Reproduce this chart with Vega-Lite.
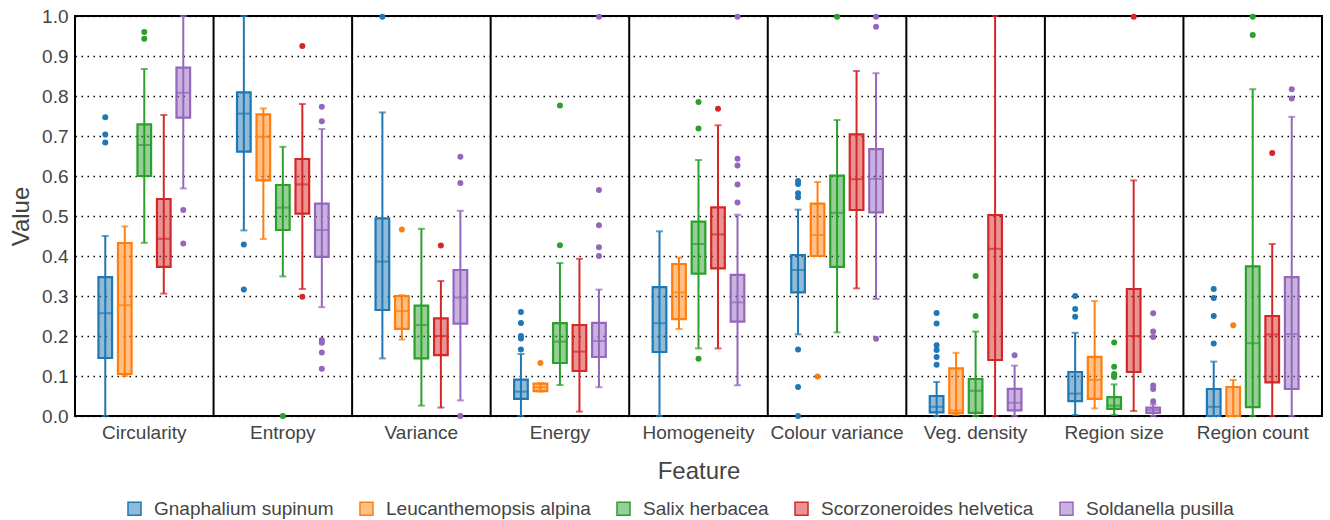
{
  "$schema": "https://vega.github.io/schema/vega-lite/v6.json",
  "width": 1247,
  "height": 400,
  "autosize": "none",
  "padding": {"left": 75, "top": 16, "right": 8, "bottom": 104},
  "background": "white",
  "config": {
    "font": "Liberation Sans",
    "view": {"stroke": "black", "strokeWidth": 2},
    "axis": {"labelColor": "#444", "titleColor": "#444", "ticks": false, "domain": false, "labelFont": "Liberation Sans", "titleFont": "Liberation Sans", "titleFontWeight": "normal"},
    "axisX": {"labelFontSize": 19, "titleFontSize": 24, "labelPadding": 7, "titlePadding": 17, "grid": false, "labelAngle": 0},
    "axisY": {"labelFontSize": 19, "titleFontSize": 24, "labelPadding": 7, "titlePadding": 8, "grid": true, "gridColor": "#000", "gridDash": [1.5, 4.5], "gridWidth": 1.4, "gridOpacity": 1},
    "legend": {"labelFontSize": 19, "labelColor": "#444", "labelFont": "Liberation Sans", "labelLimit": 400}
  },
  "resolve": {"scale": {"x": "independent"}, "axis": {"x": "independent"}},
  "datasets": {
    "features": [
      {"feature": "Circularity"}, {"feature": "Entropy"}, {"feature": "Variance"}, {"feature": "Energy"}, {"feature": "Homogeneity"}, {"feature": "Colour variance"}, {"feature": "Veg. density"}, {"feature": "Region size"}, {"feature": "Region count"}
    ],
    "boxes": [
      {"feature": "Circularity", "species": "Gnaphalium supinum", "lower": 0.0, "q1": 0.145, "median": 0.257, "q3": 0.347, "upper": 0.45},
      {"feature": "Circularity", "species": "Leucanthemopsis alpina", "lower": 0.1, "q1": 0.105, "median": 0.277, "q3": 0.4325, "upper": 0.474},
      {"feature": "Circularity", "species": "Salix herbacea", "lower": 0.433, "q1": 0.6, "median": 0.6775, "q3": 0.729, "upper": 0.8675},
      {"feature": "Circularity", "species": "Scorzoneroides helvetica", "lower": 0.306, "q1": 0.373, "median": 0.443, "q3": 0.5425, "upper": 0.7525},
      {"feature": "Circularity", "species": "Soldanella pusilla", "lower": 0.569, "q1": 0.746, "median": 0.808, "q3": 0.871, "upper": 1.0},
      {"feature": "Entropy", "species": "Gnaphalium supinum", "lower": 0.464, "q1": 0.661, "median": 0.756, "q3": 0.809, "upper": 1.0},
      {"feature": "Entropy", "species": "Leucanthemopsis alpina", "lower": 0.4425, "q1": 0.589, "median": 0.698, "q3": 0.754, "upper": 0.769},
      {"feature": "Entropy", "species": "Salix herbacea", "lower": 0.349, "q1": 0.465, "median": 0.521, "q3": 0.5775, "upper": 0.673},
      {"feature": "Entropy", "species": "Scorzoneroides helvetica", "lower": 0.3175, "q1": 0.506, "median": 0.579, "q3": 0.6425, "upper": 0.78},
      {"feature": "Entropy", "species": "Soldanella pusilla", "lower": 0.272, "q1": 0.398, "median": 0.465, "q3": 0.531, "upper": 0.7175},
      {"feature": "Variance", "species": "Gnaphalium supinum", "lower": 0.144, "q1": 0.265, "median": 0.386, "q3": 0.494, "upper": 0.759},
      {"feature": "Variance", "species": "Leucanthemopsis alpina", "lower": 0.191, "q1": 0.218, "median": 0.2625, "q3": 0.3, "upper": 0.302},
      {"feature": "Variance", "species": "Salix herbacea", "lower": 0.026, "q1": 0.144, "median": 0.2275, "q3": 0.276, "upper": 0.468},
      {"feature": "Variance", "species": "Scorzoneroides helvetica", "lower": 0.021, "q1": 0.152, "median": 0.2, "q3": 0.244, "upper": 0.3375},
      {"feature": "Variance", "species": "Soldanella pusilla", "lower": 0.039, "q1": 0.231, "median": 0.296, "q3": 0.365, "upper": 0.513},
      {"feature": "Energy", "species": "Gnaphalium supinum", "lower": 0.0, "q1": 0.043, "median": 0.061, "q3": 0.091, "upper": 0.155},
      {"feature": "Energy", "species": "Leucanthemopsis alpina", "lower": 0.061, "q1": 0.062, "median": 0.072, "q3": 0.081, "upper": 0.082},
      {"feature": "Energy", "species": "Salix herbacea", "lower": 0.0775, "q1": 0.1325, "median": 0.186, "q3": 0.232, "upper": 0.3825},
      {"feature": "Energy", "species": "Scorzoneroides helvetica", "lower": 0.011, "q1": 0.1125, "median": 0.161, "q3": 0.2275, "upper": 0.393},
      {"feature": "Energy", "species": "Soldanella pusilla", "lower": 0.072, "q1": 0.1475, "median": 0.1875, "q3": 0.233, "upper": 0.316},
      {"feature": "Homogeneity", "species": "Gnaphalium supinum", "lower": 0.0, "q1": 0.16, "median": 0.232, "q3": 0.322, "upper": 0.4617},
      {"feature": "Homogeneity", "species": "Leucanthemopsis alpina", "lower": 0.2175, "q1": 0.242, "median": 0.309, "q3": 0.38, "upper": 0.396},
      {"feature": "Homogeneity", "species": "Salix herbacea", "lower": 0.169, "q1": 0.356, "median": 0.43, "q3": 0.486, "upper": 0.64},
      {"feature": "Homogeneity", "species": "Scorzoneroides helvetica", "lower": 0.169, "q1": 0.369, "median": 0.454, "q3": 0.5217, "upper": 0.7267},
      {"feature": "Homogeneity", "species": "Soldanella pusilla", "lower": 0.0767, "q1": 0.236, "median": 0.284, "q3": 0.353, "upper": 0.503},
      {"feature": "Colour variance", "species": "Gnaphalium supinum", "lower": 0.204, "q1": 0.309, "median": 0.365, "q3": 0.4025, "upper": 0.516},
      {"feature": "Colour variance", "species": "Leucanthemopsis alpina", "lower": 0.4, "q1": 0.4, "median": 0.4525, "q3": 0.531, "upper": 0.585},
      {"feature": "Colour variance", "species": "Salix herbacea", "lower": 0.209, "q1": 0.373, "median": 0.508, "q3": 0.601, "upper": 0.74},
      {"feature": "Colour variance", "species": "Scorzoneroides helvetica", "lower": 0.319, "q1": 0.515, "median": 0.592, "q3": 0.704, "upper": 0.8625},
      {"feature": "Colour variance", "species": "Soldanella pusilla", "lower": 0.2925, "q1": 0.509, "median": 0.5925, "q3": 0.667, "upper": 0.857},
      {"feature": "Veg. density", "species": "Gnaphalium supinum", "lower": 0.0, "q1": 0.009, "median": 0.023, "q3": 0.05, "upper": 0.085},
      {"feature": "Veg. density", "species": "Leucanthemopsis alpina", "lower": 0.0025, "q1": 0.007, "median": 0.014, "q3": 0.119, "upper": 0.158},
      {"feature": "Veg. density", "species": "Salix herbacea", "lower": 0.0, "q1": 0.008, "median": 0.063, "q3": 0.0925, "upper": 0.211},
      {"feature": "Veg. density", "species": "Scorzoneroides helvetica", "lower": 0.0, "q1": 0.14, "median": 0.418, "q3": 0.5025, "upper": 1.0},
      {"feature": "Veg. density", "species": "Soldanella pusilla", "lower": 0.0, "q1": 0.014, "median": 0.033, "q3": 0.068, "upper": 0.126},
      {"feature": "Region size", "species": "Gnaphalium supinum", "lower": 0.0025, "q1": 0.037, "median": 0.056, "q3": 0.11, "upper": 0.208},
      {"feature": "Region size", "species": "Leucanthemopsis alpina", "lower": 0.019, "q1": 0.043, "median": 0.09, "q3": 0.148, "upper": 0.2875},
      {"feature": "Region size", "species": "Salix herbacea", "lower": 0.0025, "q1": 0.018, "median": 0.026, "q3": 0.047, "upper": 0.079},
      {"feature": "Region size", "species": "Scorzoneroides helvetica", "lower": 0.0125, "q1": 0.11, "median": 0.2, "q3": 0.3175, "upper": 0.589},
      {"feature": "Region size", "species": "Soldanella pusilla", "lower": 0.0, "q1": 0.008, "median": 0.015, "q3": 0.021, "upper": 0.029},
      {"feature": "Region count", "species": "Gnaphalium supinum", "lower": 0.0, "q1": 0.0, "median": 0.023, "q3": 0.0675, "upper": 0.136},
      {"feature": "Region count", "species": "Leucanthemopsis alpina", "lower": 0.0, "q1": 0.0, "median": 0.0, "q3": 0.0725, "upper": 0.09},
      {"feature": "Region count", "species": "Salix herbacea", "lower": 0.0, "q1": 0.022, "median": 0.182, "q3": 0.374, "upper": 0.817},
      {"feature": "Region count", "species": "Scorzoneroides helvetica", "lower": 0.0, "q1": 0.084, "median": 0.204, "q3": 0.25, "upper": 0.43},
      {"feature": "Region count", "species": "Soldanella pusilla", "lower": 0.0, "q1": 0.0675, "median": 0.205, "q3": 0.347, "upper": 0.748}
    ],
    "outliers": [
      {"feature": "Circularity", "species": "Gnaphalium supinum", "value": 0.747},
      {"feature": "Circularity", "species": "Gnaphalium supinum", "value": 0.704},
      {"feature": "Circularity", "species": "Gnaphalium supinum", "value": 0.684},
      {"feature": "Circularity", "species": "Salix herbacea", "value": 0.96},
      {"feature": "Circularity", "species": "Salix herbacea", "value": 0.943},
      {"feature": "Circularity", "species": "Soldanella pusilla", "value": 0.515},
      {"feature": "Circularity", "species": "Soldanella pusilla", "value": 0.431},
      {"feature": "Entropy", "species": "Gnaphalium supinum", "value": 0.429},
      {"feature": "Entropy", "species": "Gnaphalium supinum", "value": 0.316},
      {"feature": "Entropy", "species": "Salix herbacea", "value": 0.0},
      {"feature": "Entropy", "species": "Scorzoneroides helvetica", "value": 0.925},
      {"feature": "Entropy", "species": "Scorzoneroides helvetica", "value": 0.298},
      {"feature": "Entropy", "species": "Soldanella pusilla", "value": 0.773},
      {"feature": "Entropy", "species": "Soldanella pusilla", "value": 0.737},
      {"feature": "Entropy", "species": "Soldanella pusilla", "value": 0.19},
      {"feature": "Entropy", "species": "Soldanella pusilla", "value": 0.183},
      {"feature": "Entropy", "species": "Soldanella pusilla", "value": 0.159},
      {"feature": "Entropy", "species": "Soldanella pusilla", "value": 0.118},
      {"feature": "Variance", "species": "Gnaphalium supinum", "value": 0.998},
      {"feature": "Variance", "species": "Leucanthemopsis alpina", "value": 0.466},
      {"feature": "Variance", "species": "Scorzoneroides helvetica", "value": 0.426},
      {"feature": "Variance", "species": "Soldanella pusilla", "value": 0.648},
      {"feature": "Variance", "species": "Soldanella pusilla", "value": 0.5825},
      {"feature": "Variance", "species": "Soldanella pusilla", "value": 0.0},
      {"feature": "Energy", "species": "Gnaphalium supinum", "value": 0.26},
      {"feature": "Energy", "species": "Gnaphalium supinum", "value": 0.2325},
      {"feature": "Energy", "species": "Gnaphalium supinum", "value": 0.2},
      {"feature": "Energy", "species": "Gnaphalium supinum", "value": 0.194},
      {"feature": "Energy", "species": "Gnaphalium supinum", "value": 0.166},
      {"feature": "Energy", "species": "Leucanthemopsis alpina", "value": 0.1325},
      {"feature": "Energy", "species": "Salix herbacea", "value": 0.776},
      {"feature": "Energy", "species": "Salix herbacea", "value": 0.427},
      {"feature": "Energy", "species": "Soldanella pusilla", "value": 0.998},
      {"feature": "Energy", "species": "Soldanella pusilla", "value": 0.565},
      {"feature": "Energy", "species": "Soldanella pusilla", "value": 0.477},
      {"feature": "Energy", "species": "Soldanella pusilla", "value": 0.422},
      {"feature": "Energy", "species": "Soldanella pusilla", "value": 0.4},
      {"feature": "Homogeneity", "species": "Salix herbacea", "value": 0.785},
      {"feature": "Homogeneity", "species": "Salix herbacea", "value": 0.719},
      {"feature": "Homogeneity", "species": "Salix herbacea", "value": 0.143},
      {"feature": "Homogeneity", "species": "Scorzoneroides helvetica", "value": 0.768},
      {"feature": "Homogeneity", "species": "Soldanella pusilla", "value": 0.998},
      {"feature": "Homogeneity", "species": "Soldanella pusilla", "value": 0.643},
      {"feature": "Homogeneity", "species": "Soldanella pusilla", "value": 0.626},
      {"feature": "Homogeneity", "species": "Soldanella pusilla", "value": 0.579},
      {"feature": "Homogeneity", "species": "Soldanella pusilla", "value": 0.534},
      {"feature": "Colour variance", "species": "Gnaphalium supinum", "value": 0.5875},
      {"feature": "Colour variance", "species": "Gnaphalium supinum", "value": 0.58},
      {"feature": "Colour variance", "species": "Gnaphalium supinum", "value": 0.557},
      {"feature": "Colour variance", "species": "Gnaphalium supinum", "value": 0.547},
      {"feature": "Colour variance", "species": "Gnaphalium supinum", "value": 0.166},
      {"feature": "Colour variance", "species": "Gnaphalium supinum", "value": 0.0725},
      {"feature": "Colour variance", "species": "Gnaphalium supinum", "value": 0.0},
      {"feature": "Colour variance", "species": "Leucanthemopsis alpina", "value": 0.099},
      {"feature": "Colour variance", "species": "Salix herbacea", "value": 0.998},
      {"feature": "Colour variance", "species": "Soldanella pusilla", "value": 0.998},
      {"feature": "Colour variance", "species": "Soldanella pusilla", "value": 0.973},
      {"feature": "Colour variance", "species": "Soldanella pusilla", "value": 0.193},
      {"feature": "Veg. density", "species": "Gnaphalium supinum", "value": 0.2575},
      {"feature": "Veg. density", "species": "Gnaphalium supinum", "value": 0.231},
      {"feature": "Veg. density", "species": "Gnaphalium supinum", "value": 0.177},
      {"feature": "Veg. density", "species": "Gnaphalium supinum", "value": 0.165},
      {"feature": "Veg. density", "species": "Gnaphalium supinum", "value": 0.1475},
      {"feature": "Veg. density", "species": "Gnaphalium supinum", "value": 0.128},
      {"feature": "Veg. density", "species": "Salix herbacea", "value": 0.35},
      {"feature": "Veg. density", "species": "Salix herbacea", "value": 0.25},
      {"feature": "Veg. density", "species": "Soldanella pusilla", "value": 0.152},
      {"feature": "Region size", "species": "Gnaphalium supinum", "value": 0.3},
      {"feature": "Region size", "species": "Gnaphalium supinum", "value": 0.2675},
      {"feature": "Region size", "species": "Gnaphalium supinum", "value": 0.248},
      {"feature": "Region size", "species": "Salix herbacea", "value": 0.184},
      {"feature": "Region size", "species": "Salix herbacea", "value": 0.123},
      {"feature": "Region size", "species": "Salix herbacea", "value": 0.105},
      {"feature": "Region size", "species": "Salix herbacea", "value": 0.1},
      {"feature": "Region size", "species": "Salix herbacea", "value": 0.0975},
      {"feature": "Region size", "species": "Scorzoneroides helvetica", "value": 0.998},
      {"feature": "Region size", "species": "Soldanella pusilla", "value": 0.257},
      {"feature": "Region size", "species": "Soldanella pusilla", "value": 0.211},
      {"feature": "Region size", "species": "Soldanella pusilla", "value": 0.1975},
      {"feature": "Region size", "species": "Soldanella pusilla", "value": 0.076},
      {"feature": "Region size", "species": "Soldanella pusilla", "value": 0.0675},
      {"feature": "Region size", "species": "Soldanella pusilla", "value": 0.037},
      {"feature": "Region count", "species": "Gnaphalium supinum", "value": 0.3175},
      {"feature": "Region count", "species": "Gnaphalium supinum", "value": 0.295},
      {"feature": "Region count", "species": "Gnaphalium supinum", "value": 0.25},
      {"feature": "Region count", "species": "Gnaphalium supinum", "value": 0.181},
      {"feature": "Region count", "species": "Leucanthemopsis alpina", "value": 0.227},
      {"feature": "Region count", "species": "Salix herbacea", "value": 0.998},
      {"feature": "Region count", "species": "Salix herbacea", "value": 0.9525},
      {"feature": "Region count", "species": "Scorzoneroides helvetica", "value": 0.6575},
      {"feature": "Region count", "species": "Soldanella pusilla", "value": 0.817},
      {"feature": "Region count", "species": "Soldanella pusilla", "value": 0.794}
    ]
  },
  "layer": [
    {
      "layer": [
        {
          "data": {"name": "boxes"},
          "mark": {"type": "rule", "strokeWidth": 2, "clip": false},
          "encoding": {
            "x": {"field": "feature", "type": "nominal", "title": "Feature", "scale": {"domain": ["Circularity", "Entropy", "Variance", "Energy", "Homogeneity", "Colour variance", "Veg. density", "Region size", "Region count"], "paddingInner": 0.057, "paddingOuter": 0.0285}},
            "xOffset": {"field": "species", "type": "nominal", "scale": {"domain": ["Gnaphalium supinum", "Leucanthemopsis alpina", "Salix herbacea", "Scorzoneroides helvetica", "Soldanella pusilla"], "paddingInner": 0.3, "paddingOuter": 1}},
            "y": {"field": "lower", "type": "quantitative", "title": "Value", "scale": {"domain": [0, 1], "nice": false, "zero": false}, "axis": {"values": [0, 0.1, 0.2, 0.3, 0.4, 0.5, 0.6, 0.7, 0.8, 0.9, 1.0], "format": ".1f"}},
            "y2": {"field": "upper"},
            "stroke": {"field": "species", "type": "nominal", "title": null, "scale": {"domain": ["Gnaphalium supinum", "Leucanthemopsis alpina", "Salix herbacea", "Scorzoneroides helvetica", "Soldanella pusilla"], "range": ["#1f77b4", "#ff7f0e", "#2ca02c", "#d62728", "#9467bd"]},
              "legend": {"orient": "none", "legendX": 50, "legendY": 483, "direction": "horizontal", "symbolType": "square", "symbolSize": 170, "symbolStrokeWidth": 1.5, "columnPadding": 22, "labelOffset": 10, "encode": {"symbols": {"update": {"fillOpacity": {"value": 0.5}}}}}}
          }
        },
        {
          "data": {"name": "boxes"},
          "mark": {"type": "tick", "thickness": 2, "size": 7, "clip": false},
          "encoding": {
            "x": {"field": "feature", "type": "nominal", "title": "Feature"},
            "xOffset": {"field": "species", "type": "nominal"},
            "y": {"field": "upper", "type": "quantitative", "title": "Value", "axis": {"values": [0, 0.1, 0.2, 0.3, 0.4, 0.5, 0.6, 0.7, 0.8, 0.9, 1.0], "format": ".1f"}},
            "fill": {"field": "species", "type": "nominal", "title": null}
          }
        },
        {
          "data": {"name": "boxes"},
          "mark": {"type": "tick", "thickness": 2, "size": 7, "clip": false},
          "encoding": {
            "x": {"field": "feature", "type": "nominal", "title": "Feature"},
            "xOffset": {"field": "species", "type": "nominal"},
            "y": {"field": "lower", "type": "quantitative", "title": "Value", "axis": {"values": [0, 0.1, 0.2, 0.3, 0.4, 0.5, 0.6, 0.7, 0.8, 0.9, 1.0], "format": ".1f"}},
            "fill": {"field": "species", "type": "nominal", "title": null}
          }
        },
        {
          "data": {"name": "boxes"},
          "mark": {"type": "bar", "fillOpacity": 0.5, "strokeWidth": 2.2, "clip": false},
          "encoding": {
            "x": {"field": "feature", "type": "nominal", "title": "Feature"},
            "xOffset": {"field": "species", "type": "nominal"},
            "y": {"field": "q1", "type": "quantitative", "title": "Value", "axis": {"values": [0, 0.1, 0.2, 0.3, 0.4, 0.5, 0.6, 0.7, 0.8, 0.9, 1.0], "format": ".1f"}},
            "y2": {"field": "q3"},
            "fill": {"field": "species", "type": "nominal", "title": null, "scale": {"domain": ["Gnaphalium supinum", "Leucanthemopsis alpina", "Salix herbacea", "Scorzoneroides helvetica", "Soldanella pusilla"], "range": ["#1f77b4", "#ff7f0e", "#2ca02c", "#d62728", "#9467bd"]},
              "legend": {"orient": "none", "legendX": 50, "legendY": 483, "direction": "horizontal", "symbolType": "square", "symbolSize": 170, "symbolStrokeWidth": 1.5, "columnPadding": 22, "labelOffset": 10, "encode": {"symbols": {"update": {"fillOpacity": {"value": 0.5}}}}}},
            "stroke": {"field": "species", "type": "nominal", "title": null}
          }
        },
        {
          "data": {"name": "boxes"},
          "mark": {"type": "tick", "thickness": 2, "size": 13.5, "clip": false},
          "encoding": {
            "x": {"field": "feature", "type": "nominal", "title": "Feature"},
            "xOffset": {"field": "species", "type": "nominal"},
            "y": {"field": "median", "type": "quantitative", "title": "Value", "axis": {"values": [0, 0.1, 0.2, 0.3, 0.4, 0.5, 0.6, 0.7, 0.8, 0.9, 1.0], "format": ".1f"}},
            "fill": {"field": "species", "type": "nominal", "title": null}
          }
        },
        {
          "data": {"name": "outliers"},
          "mark": {"type": "circle", "size": 36, "opacity": 1, "clip": false},
          "encoding": {
            "x": {"field": "feature", "type": "nominal", "title": "Feature"},
            "xOffset": {"field": "species", "type": "nominal"},
            "y": {"field": "value", "type": "quantitative", "title": "Value", "axis": {"values": [0, 0.1, 0.2, 0.3, 0.4, 0.5, 0.6, 0.7, 0.8, 0.9, 1.0], "format": ".1f"}},
            "fill": {"field": "species", "type": "nominal", "title": null}
          }
        }
      ]
    },
    {
      "data": {"name": "features"},
      "mark": {"type": "rule", "color": "black", "strokeWidth": 2},
      "encoding": {
        "x": {"field": "feature", "type": "nominal", "axis": null, "bandPosition": 0, "scale": {"domain": ["Circularity", "Entropy", "Variance", "Energy", "Homogeneity", "Colour variance", "Veg. density", "Region size", "Region count"], "paddingInner": 0, "paddingOuter": 0}}
      }
    }
  ]
}
